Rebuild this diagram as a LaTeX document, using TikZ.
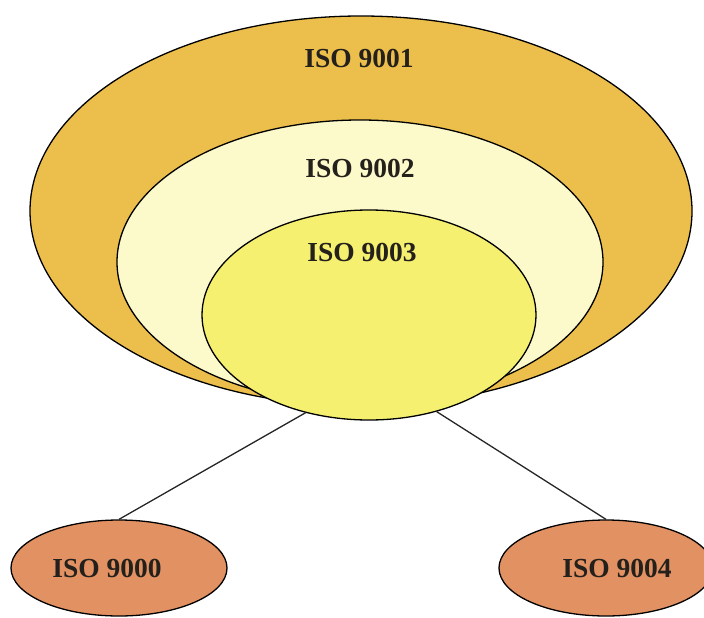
\documentclass[tikz,border=0pt]{standalone}
\usepackage{fontspec}
\setmainfont{Liberation Serif}
\usetikzlibrary{shapes.geometric}
\definecolor{outerc}{RGB}{236,190,76}
\definecolor{midc}{RGB}{252,249,202}
\definecolor{innerc}{RGB}{245,240,112}
\definecolor{leafc}{RGB}{226,145,98}
\definecolor{txtc}{RGB}{36,32,28}
\tikzset{
  oval/.style={ellipse, draw=black, line width=1.3pt, inner sep=0pt},
  lbl/.style={font=\fontsize{27.5}{30}\selectfont\bfseries, text=txtc, inner sep=0pt},
  link/.style={draw=black!85, line width=1.3pt}
}
\begin{document}
\begin{tikzpicture}[x=1pt,y=-1pt]
\useasboundingbox (0,0) rectangle (704,618);
\node[oval, fill=outerc, minimum width=662pt, minimum height=390pt] (outer) at (361,211) {};
\node[oval, fill=midc, minimum width=486pt, minimum height=284pt] (mid) at (360,262) {};
\node[oval, fill=innerc, minimum width=334pt, minimum height=210pt] (inner) at (369,315) {};
\node[oval, fill=leafc, minimum width=216pt, minimum height=96pt] (left) at (119,568) {};
\node[oval, fill=leafc, minimum width=214pt, minimum height=96pt] (right) at (606,568) {};
\draw[link] (inner.237) -- (left.north);
\draw[link] (inner.305) -- (right.north);
\node[lbl] (t1) at (359,58) {ISO 9001};
\node[lbl] (t2) at (360,168) {ISO 9002};
\node[lbl] (t3) at (362,252) {ISO 9003};
\node[lbl] (t0) at (107,568) {ISO 9000};
\node[lbl] (t4) at (617,568) {ISO 9004};
\end{tikzpicture}
\end{document}
